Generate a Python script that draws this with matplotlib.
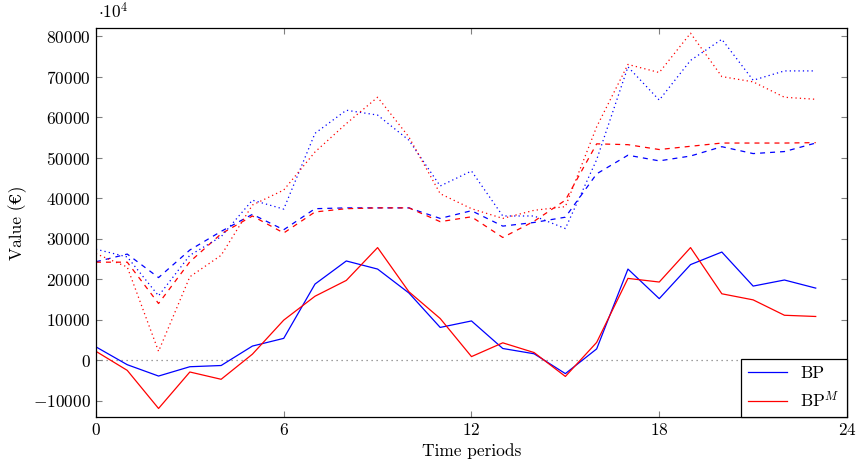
import numpy as np
import matplotlib
matplotlib.use("Agg")
import matplotlib.pyplot as plt

plt.rcParams['font.family'] = ['cmr10', 'DejaVu Serif']
plt.rcParams['mathtext.fontset'] = 'cm'
plt.rcParams['axes.formatter.use_mathtext'] = True

periods = np.arange(24)

bp = [3300, -1100, -3900, -1600, -1300, 3500, 5400, 18800, 24500, 22500,
      16600, 8100, 9700, 2900, 1600, -3300, 2800, 22500, 15200, 23600,
      26700, 18300, 19800, 17800]
bp_m = [2200, -2500, -11900, -2900, -4700, 1500, 9900, 15800, 19700, 27800,
        16900, 10300, 900, 4300, 1900, -4000, 4400, 20200, 19300, 27800,
        16400, 14900, 11100, 10800]

bp_dashed = [24300, 26200, 20400, 27200, 31800, 36000, 32200, 37400, 37600, 37600,
             37600, 35000, 36900, 33100, 34000, 35300, 46000, 50600, 49200, 50400,
             52700, 51000, 51500, 53600]
bp_m_dashed = [24200, 24200, 14000, 24300, 31200, 35600, 31400, 36600, 37400, 37600,
               37600, 34200, 35400, 30300, 34300, 39500, 53400, 53200, 52000, 52800,
               53600, 53600, 53600, 53700]

bp_dotted = [27400, 25500, 15900, 25900, 30500, 39500, 37300, 56000, 61700, 60500,
             54300, 43000, 46700, 35600, 35600, 32500, 49500, 72400, 64200, 74000,
             79200, 69100, 71400, 71400]
bp_m_dotted = [26300, 23000, 2200, 20600, 25900, 38300, 42000, 51400, 58400, 64900,
               55100, 41100, 37400, 35000, 37000, 37900, 57600, 73000, 71000, 80700,
               70000, 68700, 64900, 64400]

fig = plt.figure(figsize=(8.56, 4.66), dpi=100)
ax = fig.add_axes([0.1121, 0.1052, 0.8774, 0.8348])

ax.axhline(0, color='#808080', lw=0.9, ls=(0, (1, 3)))

ax.plot(periods, bp, color='#0000ff', lw=0.9, label='BP')
ax.plot(periods, bp_m, color='#ff0000', lw=0.9, label='BP$^M$')
ax.plot(periods, bp_dashed, color='#0000ff', lw=0.9, ls=(0, (4, 4)))
ax.plot(periods, bp_m_dashed, color='#ff0000', lw=0.9, ls=(0, (4, 4)))
ax.plot(periods, bp_dotted, color='#0000ff', lw=0.9, ls=(0, (1, 2.5)))
ax.plot(periods, bp_m_dotted, color='#ff0000', lw=0.9, ls=(0, (1, 2.5)))

ax.set_xlim(0, 24)
ax.set_ylim(-14000, 82000)
ax.set_xticks([0, 6, 12, 18, 24])
ax.set_yticks(np.arange(-10000, 80001, 10000))
ax.tick_params(direction='in', top=True, right=True, length=4, width=0.8,
               color='#808080', labelsize=12.5)
for s in ax.spines.values():
    s.set_linewidth(0.9)

ax.set_xlabel('Time periods', fontsize=12.5, labelpad=4)
ax.set_ylabel('Value (€)', fontsize=12.5)
# pgfplots-style scale label above the y axis
ax.text(0.003, 1.025, r'$\cdot 10^4$', transform=ax.transAxes, fontsize=12.5,
        ha='left', va='baseline')

leg = ax.legend(loc='lower right', fontsize=12.5, fancybox=False, framealpha=1,
                edgecolor='black', borderaxespad=0, handlelength=2.2)
leg.get_frame().set_linewidth(0.9)

fig.savefig('out.png', dpi=100)
